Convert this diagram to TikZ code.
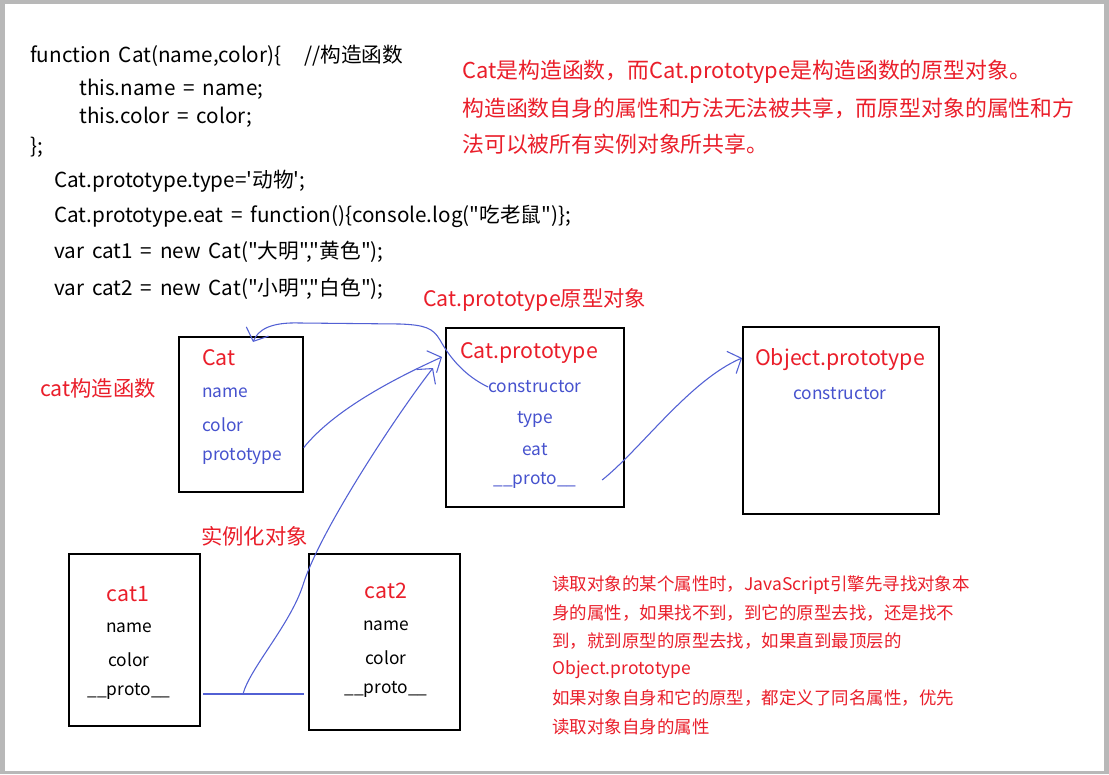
\documentclass[tikz,border=0pt]{standalone}
\usepackage{fontspec}
\setmainfont{Noto Sans CJK SC}[Ligatures=TeXOff]
\newfontfamily\codefont{Noto Sans CJK SC}[Ligatures=TeXOff,WordSpace=1.7]
\usetikzlibrary{arrows.meta}
\definecolor{notered}{RGB}{234,30,42}
\definecolor{fieldblue}{RGB}{70,82,206}
\definecolor{penblue}{RGB}{82,96,212}
\definecolor{framegray}{RGB}{184,184,184}
\tikzset{
  code/.style={anchor=west,inner sep=0pt,font=\codefont\fontsize{15.5}{18}\selectfont},
  note/.style={anchor=west,inner sep=0pt,text=notered,font=\fontsize{16.4}{19}\selectfont},
  hint/.style={anchor=west,inner sep=0pt,text=notered,font=\fontsize{13.1}{16}\selectfont},
  title/.style={inner sep=0pt,text=notered,font=\fontsize{16}{19}\selectfont},
  field/.style={inner sep=0pt,text=fieldblue,font=\fontsize{13}{16}\selectfont},
  plain/.style={inner sep=0pt,font=\fontsize{13}{16}\selectfont},
  objbox/.style={draw,line width=1pt,inner sep=0pt},
  pen/.style={penblue,line width=0.8pt},
  pentip/.style={-{Straight Barb[length=8pt,width=18pt]}}
}
\begin{document}
\begin{tikzpicture}[x=0.75pt,y=-0.75pt]
  % frame
  \useasboundingbox (0,0) rectangle (1109,774);
  \fill[framegray] (0,0) rectangle (1109,774);
  \fill[white] (5,4) rectangle (1104,771);
  % source code
  \node[code] (line1) at (30,56) {function Cat(name,color)\{\hspace{1.1em}//构造函数};
  \node[code] (line2) at (79,89) {this.name = name;};
  \node[code] (line3) at (79,117) {this.color = color;};
  \node[code] (line4) at (30,147) {\};};
  \node[code] (line5) at (54,181) {Cat.prototype.type='动物';};
  \node[code] (line6) at (54,216) {Cat.prototype.eat = function()\{console.log("吃老鼠")\};};
  \node[code] (line7) at (54,252) {var cat1 = new Cat("大明","黄色");};
  \node[code] (line8) at (54,289) {var cat2 = new Cat("小明","白色");};
  % remarks
  \node[note] (rem1) at (462,72) {Cat是构造函数，而Cat.prototype是构造函数的原型对象。};
  \node[note] (rem2) at (462,108) {构造函数自身的属性和方法无法被共享，而原型对象的属性和方};
  \node[note] (rem3) at (462,144) {法可以被所有实例对象所共享。};
  \foreach \y/\t [count=\i] in {585/{读取对象的某个属性时，JavaScript引擎先寻找对象本},
      613/{身的属性，如果找不到，到它的原型去找，还是找不},
      641/{到，就到原型的原型去找，如果直到最顶层的},
      670/{Object.prototype},
      698/{如果对象自身和它的原型，都定义了同名属性，优先},
      727/{读取对象自身的属性}}
    \node[hint] (hint\i) at (552,\y) {\t};
  \node[title,anchor=west] (protolabel) at (423,300) {Cat.prototype原型对象};
  \node[title,anchor=west] (ctorlabel) at (40,388) {cat构造函数};
  \node[title,anchor=west] (instlabel) at (201,536) {实例化对象};
  % boxes
  \node[objbox,minimum width=93pt,minimum height=116.25pt] (catbox) at (241,414.5) {};
  \node[objbox,minimum width=133.5pt,minimum height=134.25pt] (cpbox) at (535,417.5) {};
  \node[objbox,minimum width=147pt,minimum height=140.25pt] (opbox) at (841,420.5) {};
  \node[objbox,minimum width=98.25pt,minimum height=129pt] (cat1box) at (134.5,640) {};
  \node[objbox,minimum width=113.25pt,minimum height=132pt] (cat2box) at (384.5,642) {};
  % Cat
  \node[title,anchor=west] (cattitle) at (202,358) {Cat};
  \node[field,anchor=west] (catname) at (202,393) {name};
  \node[field,anchor=west] (catcolor) at (202,425) {color};
  \node[field,anchor=west] (catproto) at (202,456) {prototype};
  % Cat.prototype
  \node[title] (cptitle) at (529,353) {Cat.prototype};
  \node[field] (cpcons) at (535,387) {constructor};
  \node[field] (cptype) at (535,419) {type};
  \node[field] (cpeat) at (535,450) {eat};
  \node[field] (cpproto) at (535,480) {\_\_proto\_\_};
  % Object.prototype
  \node[title] (optitle) at (840,360) {Object.prototype};
  \node[field] (opcons) at (840,394) {constructor};
  % instances
  \node[title] (c1title) at (128,594) {cat1};
  \node[title] (c2title) at (386,591) {cat2};
  \foreach \n/\y/\t in {name/628/name,color/660/color,proto/691/\_\_proto\_\_} {
    \node[plain] (c1\n) at (129,\y) {\t};
    \node[plain] (c2\n) at (386,\y-2) {\t};
  }
  % hand drawn links
  \coordinate (cattop) at (253,342);
  \coordinate (cpin1) at (442,357);
  \coordinate (cpin2) at (433,368);
  \coordinate (opin) at (742,358);
  \coordinate (split) at (243,694);
  \draw[pen,pentip] (cpcons.west) .. controls (465,376) and (450,358) .. (440,340)
    .. controls (433,328) and (425,325) .. (400,324) -- (300,323)
    .. controls (270,322) and (258,330) .. (cattop);
  \draw[pen,pentip] (catbox.east |- catproto.north) .. controls (330,415) and (380,385) .. (cpin1);
  \draw[pen] ([xshift=2pt]cat1box.east |- split) -- (split) -- ([xshift=-3pt]cat2box.west |- split);
  \draw[pen,pentip] (split) .. controls (250,668) and (290,625) .. (303,585)
    .. controls (320,530) and (400,410) .. (cpin2);
  \draw[pen,pentip] ([xshift=19pt]cpproto.east) .. controls (640,450) and (690,380) .. (opin);
\end{tikzpicture}
\end{document}
